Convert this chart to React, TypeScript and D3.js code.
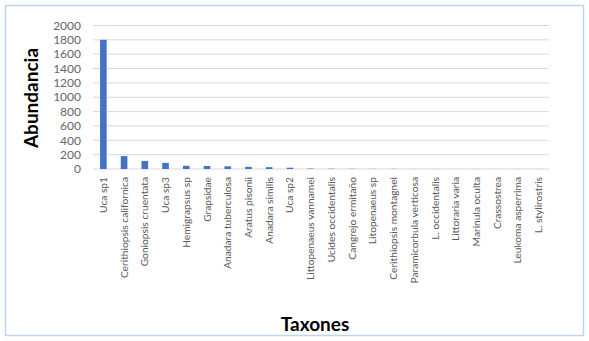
import React from 'react';
import * as d3 from 'd3';

const taxa = [
  'Uca sp1', 'Cerithiopsis californica', 'Goniopsis cruentata', 'Uca sp3', 'Hemigrapsus sp',
  'Grapsidae', 'Anadara tuberculosa', 'Aratus pisonii', 'Anadara similis', 'Uca sp2',
  'Littopenaeus vannamei', 'Ucides occidentalis', 'Cangrejo ermitaño', 'Litopenaeus sp',
  'Cerithiopsis montagnei', 'Paramicorbula verticosa', 'L. occidentalis', 'Littoraria varia',
  'Marinula oculta', 'Crassostrea', 'Leukoma asperrima', 'L. stylirostris',
];
const abundance = [1800, 180, 112, 85, 45, 42, 38, 30, 25, 18, 6, 4, 3, 2, 2, 1, 1, 1, 1, 1, 1, 1];
const yTicks = [0, 200, 400, 600, 800, 1000, 1200, 1400, 1600, 1800, 2000];

const W = 589;
const H = 341;
const plot = { left: 93, right: 549, top: 25.5, bottom: 169 };
const labelFont = "Lato, 'Open Sans', sans-serif";

export default function App() {
  const x = d3.scaleBand<string>()
    .domain(taxa)
    .range([plot.left, plot.right])
    .paddingInner(0.68)
    .paddingOuter(0.34);
  const y = d3.scaleLinear().domain([0, 2000]).range([plot.bottom, plot.top]);

  return (
    <div style={{ position: 'fixed', left: 0, top: 0 }}>
      <svg width={W} height={H} style={{ display: 'block', background: '#fff' }}>
        <rect x={5.5} y={5.5} width={578} height={330} fill="#fff" stroke="#bdd5ee" strokeWidth={1.5} />

        {/* gridlines */}
        {yTicks.map(t => (
          <line key={t} x1={plot.left} x2={plot.right} y1={y(t)} y2={y(t)} stroke="#d9d9d9" strokeWidth={1} />
        ))}

        {/* y tick labels */}
        {yTicks.map(t => (
          <text key={'l' + t} x={81} y={y(t)} dy="0.35em" textAnchor="end"
            fontFamily={labelFont} fontSize={12} fill="#666">{t}</text>
        ))}

        {/* bars */}
        {taxa.map((name, i) => (
          <rect key={name} x={x(name)} y={y(abundance[i])} width={x.bandwidth()}
            height={plot.bottom - y(abundance[i])} fill="#4472c4" />
        ))}

        {/* category labels */}
        {taxa.map(name => {
          const cx = (x(name) ?? 0) + x.bandwidth() / 2;
          return (
            <text key={'c' + name} transform={`translate(${cx},177) rotate(-90)`} dy="0.35em"
              textAnchor="end" fontFamily={labelFont} fontSize={10.2} fill="#595959">{name}</text>
          );
        })}

        <text transform="translate(38,98) rotate(-90)" textAnchor="middle"
          fontFamily={labelFont} fontWeight="bold" fontSize={19} fill="#000">Abundancia</text>
        <text x={315} y={331} textAnchor="middle"
          fontFamily={labelFont} fontWeight="bold" fontSize={19} fill="#000">Taxones</text>
      </svg>
    </div>
  );
}
